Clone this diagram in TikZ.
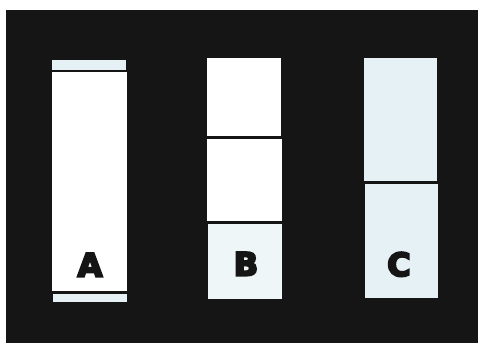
\documentclass[tikz,border=0pt]{standalone}
\usepackage{fontspec}
\newfontfamily\lettfont[FakeBold=6.5]{DejaVu Sans Bold}
\definecolor{bg}{HTML}{151515}
\definecolor{tint}{HTML}{E6F1F5}
\definecolor{tintb}{HTML}{EEF6F8}
\begin{document}
\begin{tikzpicture}[x=1pt,y=-1pt,
  panel/.style={fill=#1,draw=none},
  lett/.style={anchor=base,font=\lettfont\fontsize{32}{32}\selectfont,text=bg,inner sep=0pt}]
\useasboundingbox (0,0) rectangle (478,343);
\fill[white] (0,0) rectangle (478,343);
\fill[bg] (6,10) rectangle (478,343);
% strip A
\fill[panel=tint] (52,60) rectangle (126,69.5);
\fill[panel=white] (52,72) rectangle (127,291);
\fill[panel=tint] (53,293.5) rectangle (127,302);
\node[lett] (a) at (90,276.5) {A};
% strip B
\fill[panel=white] (207,58) rectangle (281,136);
\fill[panel=white] (207,138.5) rectangle (282,221);
\fill[panel=tintb] (208,223.5) rectangle (282,299);
\node[lett] (b) at (246,275.5) {B};
% strip C
\fill[panel=tint] (364,58) rectangle (437,181);
\fill[panel=tint] (365,183.5) rectangle (438,298);
\node[lett] (c) at (399,276) {C};
\end{tikzpicture}
\end{document}
